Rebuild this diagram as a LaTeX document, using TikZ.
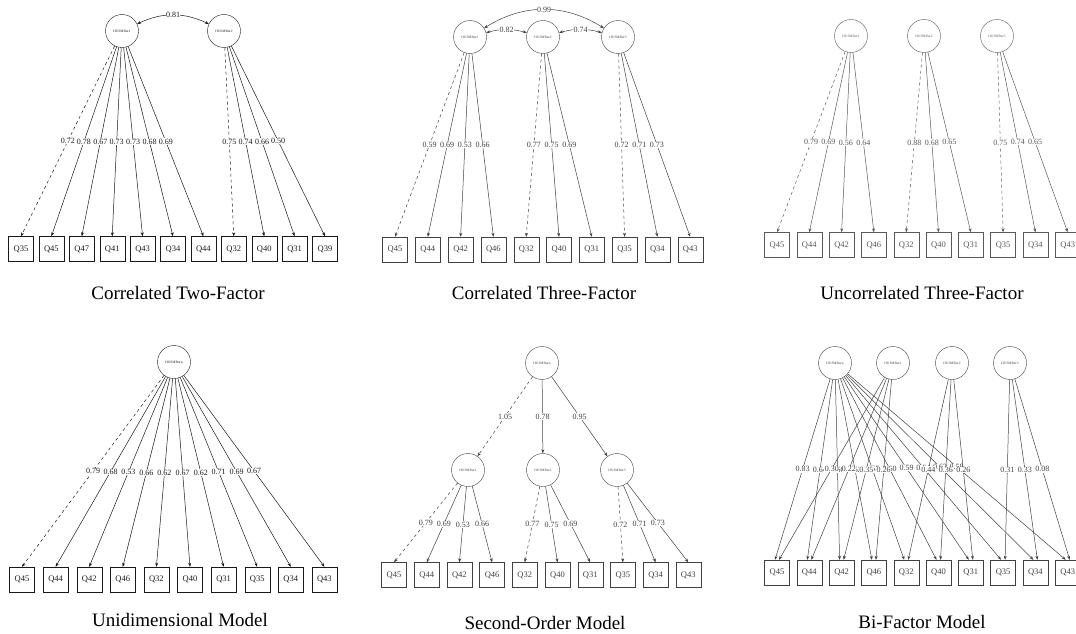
\documentclass[tikz,border=0pt]{standalone}
\usepackage{fontspec}
\setmainfont{Liberation Serif}
\usetikzlibrary{arrows.meta,positioning}
\tikzset{
  latent/.style={draw,circle,minimum size=33pt,inner sep=0pt,
    font=\fontsize{3.5}{4}\selectfont},
  item/.style={draw,rectangle,minimum size=25pt,inner sep=0pt,
    font=\fontsize{8.5}{9}\selectfont},
  load/.style={-{Stealth[length=4pt,width=3pt]},line width=0.5pt},
  fixed/.style={load,dashed},
  cov/.style={{Stealth[length=4pt,width=3pt]}-{Stealth[length=4pt,width=3pt]},
    line width=0.5pt},
  est/.style={fill=white,inner sep=0.4pt,font=\fontsize{8}{8}\selectfont},
  caption/.style={font=\fontsize{19}{20}\selectfont}
}

\begin{document}
\begin{tikzpicture}[x=1pt,y=1pt]
  \useasboundingbox (0,0) rectangle (1076,-634);

  % correlated two-factor
  \begin{scope}[color=black!90]
    \node[latent] (A1) at (122,-31) {HUSMBur1};
    \node[latent] (A2) at (224,-31) {HUSMBur2};
    \foreach \q [count=\i] in {35,45,47,41,43,34,44,32,40,31,39}
      \node[item] (a\i) at ({21+30.4*(\i-1)},-249) {Q\q};
    \draw[cov] (A1) to[bend left=25] node[est]{0.81} (A2);
    \draw[fixed] (A1) -- node[est]{0.72} (a1.north);
    \foreach \i/\v in {2/0.78,3/0.67,4/0.73,5/0.73,6/0.68,7/0.69}
      \draw[load] (A1) -- node[est]{\v} (a\i.north);
    \draw[fixed] (A2) -- node[est]{0.75} (a8.north);
    \foreach \i/\v in {9/0.74,10/0.66,11/0.50}
      \draw[load] (A2) -- node[est]{\v} (a\i.north);
  \end{scope}
  \node[caption] (tA) at (178,-293) {Correlated Two-Factor};

  % correlated three-factor
  \begin{scope}[color=black!75]
    \node[latent] (B1) at (470,-37) {HUSMBur1};
    \node[latent] (B2) at (543,-37) {HUSMBur2};
    \node[latent] (B3) at (618,-37) {HUSMBur3};
    \foreach \q [count=\i] in {45,44,42,46,32,40,31,35,34,43}
      \node[item] (b\i) at ({395+32.8*(\i-1)},-249.5) {Q\q};
    \draw[cov] (B1) to[bend left=15] node[est]{0.82} (B2);
    \draw[cov] (B2) to[bend left=15] node[est]{0.74} (B3);
    \draw[cov] (B1) to[bend left=32] node[est]{0.99} (B3);
    \draw[fixed] (B1) -- node[est]{0.59} (b1.north);
    \foreach \i/\v in {2/0.69,3/0.53,4/0.66}
      \draw[load] (B1) -- node[est]{\v} (b\i.north);
    \draw[fixed] (B2) -- node[est]{0.77} (b5.north);
    \foreach \i/\v in {6/0.75,7/0.69}
      \draw[load] (B2) -- node[est]{\v} (b\i.north);
    \draw[fixed] (B3) -- node[est]{0.72} (b8.north);
    \foreach \i/\v in {9/0.71,10/0.73}
      \draw[load] (B3) -- node[est]{\v} (b\i.north);
  \end{scope}
  \node[caption] (tB) at (544,-293) {Correlated Three-Factor};

  % uncorrelated three-factor
  \begin{scope}[color=black!65]
    \node[latent] (C1) at (851,-36) {HUSMBur1};
    \node[latent] (C2) at (924,-36) {HUSMBur2};
    \node[latent] (C3) at (997,-36) {HUSMBur3};
    \foreach \q [count=\i] in {45,44,42,46,32,40,31,35,34,43}
      \node[item] (c\i) at ({777+32.3*(\i-1)},-245) {Q\q};
    \draw[fixed] (C1) -- node[est]{0.79} (c1.north);
    \foreach \i/\v in {2/0.69,3/0.56,4/0.64}
      \draw[load] (C1) -- node[est]{\v} (c\i.north);
    \draw[fixed] (C2) -- node[est]{0.88} (c5.north);
    \foreach \i/\v in {6/0.68,7/0.65}
      \draw[load] (C2) -- node[est]{\v} (c\i.north);
    \draw[fixed] (C3) -- node[est]{0.75} (c8.north);
    \foreach \i/\v in {9/0.74,10/0.65}
      \draw[load] (C3) -- node[est]{\v} (c\i.north);
  \end{scope}
  \node[caption] (tC) at (922,-293) {Uncorrelated Three-Factor};

  % unidimensional
  \begin{scope}[color=black!90]
    \node[latent] (D0) at (174,-362) {HUSMBurn};
    \foreach \q [count=\i] in {45,44,42,46,32,40,31,35,34,43}
      \node[item] (d\i) at ({22+33.6*(\i-1)},-579.5) {Q\q};
    \draw[fixed] (D0) -- node[est]{0.79} (d1.north);
    \foreach \i/\v in {2/0.68,3/0.53,4/0.66,5/0.62,6/0.67,7/0.62,8/0.71,9/0.69,10/0.67}
      \draw[load] (D0) -- node[est]{\v} (d\i.north);
  \end{scope}
  \node[caption] (tD) at (180,-620) {Unidimensional Model};

  % second-order
  \begin{scope}[color=black!75]
    \node[latent] (E0) at (542,-363) {HUSMBurn};
    \node[latent] (E1) at (468,-470) {HUSMBur1};
    \node[latent] (E2) at (543,-470) {HUSMBur2};
    \node[latent] (E3) at (617,-470) {HUSMBur3};
    \foreach \q [count=\i] in {45,44,42,46,32,40,31,35,34,43}
      \node[item] (e\i) at ({394+32.7*(\i-1)},-575) {Q\q};
    \draw[fixed] (E0) -- node[est]{1.05} (E1);
    \draw[load] (E0) -- node[est]{0.78} (E2);
    \draw[load] (E0) -- node[est]{0.95} (E3);
    \draw[fixed] (E1) -- node[est]{0.79} (e1.north);
    \foreach \i/\v in {2/0.69,3/0.53,4/0.66}
      \draw[load] (E1) -- node[est]{\v} (e\i.north);
    \draw[fixed] (E2) -- node[est]{0.77} (e5.north);
    \foreach \i/\v in {6/0.75,7/0.69}
      \draw[load] (E2) -- node[est]{\v} (e\i.north);
    \draw[fixed] (E3) -- node[est]{0.72} (e8.north);
    \foreach \i/\v in {9/0.71,10/0.73}
      \draw[load] (E3) -- node[est]{\v} (e\i.north);
  \end{scope}
  \node[caption] (tE) at (545,-623) {Second-Order Model};

  % bi-factor
  \begin{scope}[color=black!75]
    \node[latent] (F0) at (835,-363) {HUSMBurn};
    \node[latent] (F1) at (893,-363) {HUSMBur1};
    \node[latent] (F2) at (952,-363) {HUSMBur2};
    \node[latent] (F3) at (1010,-363) {HUSMBur3};
    \foreach \q [count=\i] in {45,44,42,46,32,40,31,35,34,43}
      \node[item] (f\i) at ({777+32.3*(\i-1)},-572.5) {Q\q};
    \foreach \i/\v in {1/0.83,2/0.64,3/0.50,4/0.62,5/0.55,6/0.60,7/0.59,8/0.64,9/0.62,10/0.58}
      \draw[load] (F0) -- node[est]{\v} ([xshift=-2]f\i.north);
    \foreach \i/\v in {1/0.30,2/0.22,3/0.35,4/0.26}
      \draw[load] (F1) -- node[est]{\v} ([xshift=2]f\i.north);
    \foreach \i/\v in {5/0.44,6/0.36,7/0.26}
      \draw[load] (F2) -- node[est]{\v} ([xshift=2]f\i.north);
    \foreach \i/\v in {8/0.31,9/0.33,10/0.08}
      \draw[load] (F3) -- node[est]{\v} ([xshift=2]f\i.north);
  \end{scope}
  \node[caption] (tF) at (922,-622) {Bi-Factor Model};
\end{tikzpicture}
\end{document}
